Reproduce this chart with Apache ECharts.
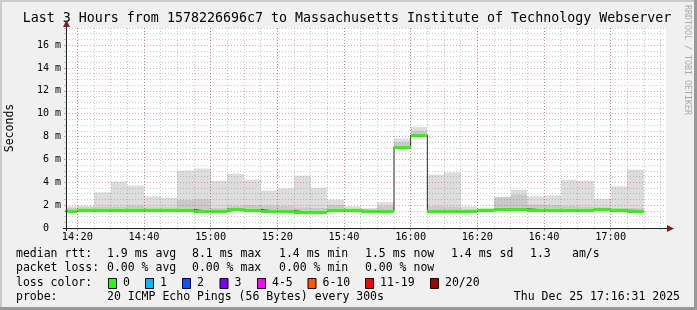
<!DOCTYPE html>
<html><head><meta charset="utf-8">
<script src="https://cdn.jsdelivr.net/npm/echarts@6/dist/echarts.min.js"></script>
<style>html,body{margin:0;padding:0;background:#f0f0f0}#c{width:697px;height:310px}</style>
</head><body><div id="c"></div>
<script>
// ---- data ----
const barEnds = ['14:20','14:25','14:30','14:35','14:40','14:45','14:50','14:55','15:00','15:05','15:10','15:15','15:20','15:25','15:30','15:35','15:40','15:45','15:50','15:55','16:00','16:05','16:10','16:15','16:20','16:25','16:30','16:35','16:40','16:45','16:50','16:55','17:00','17:05','17:10'];
const medianMs = [1.47,1.56,1.58,1.60,1.57,1.55,1.58,1.60,1.47,1.47,1.62,1.60,1.48,1.50,1.38,1.43,1.58,1.55,1.52,1.52,7.10,8.12,1.53,1.47,1.47,1.56,1.62,1.66,1.60,1.60,1.60,1.58,1.62,1.55,1.52];
const minMs    = [1.38,1.45,1.48,1.50,1.47,1.45,1.48,1.50,1.38,1.38,1.50,1.48,1.38,1.38,1.28,1.33,1.45,1.45,1.42,1.42,7.00,8.00,1.43,1.38,1.38,1.47,1.52,1.55,1.48,1.48,1.50,1.48,1.50,1.45,1.42];
const midMs    = [1.75,1.80,1.85,1.85,1.95,1.80,1.80,2.45,2.50,1.75,1.90,2.00,1.95,1.90,1.80,1.75,2.00,1.70,1.62,1.90,7.50,8.50,1.90,1.85,1.62,1.65,2.70,2.92,2.04,2.00,1.90,1.85,1.80,1.75,1.75];
const maxMs    = [1.90,1.95,3.12,4.06,3.71,2.77,2.66,5.02,5.20,4.12,4.76,4.23,3.27,3.47,4.58,3.53,2.48,1.90,1.75,2.25,7.83,8.85,4.67,4.87,1.90,1.78,2.72,3.36,2.77,2.86,4.23,4.15,2.57,3.65,5.11];
const xMajorLabels = ['14:20','14:40','15:00','15:20','15:40','16:00','16:20','16:40','17:00'];
const xMinorTimes = ['14:20','14:25','14:30','14:35','14:40','14:45','14:50','14:55','15:00','15:05','15:10','15:15','15:20','15:25','15:30','15:35','15:40','15:45','15:50','15:55','16:00','16:05','16:10','16:15','16:20','16:25','16:30','16:35','16:40','16:45','16:50','16:55','17:00','17:05','17:10','17:15'];
const yMajorTicks = [0,2,4,6,8,10,12,14,16];
const yMinorTicks = [0.5,1,1.5,2.5,3,3.5,4.5,5,5.5,6.5,7,7.5,8.5,9,9.5,10.5,11,11.5,12.5,13,13.5,14.5,15,15.5,16.5,17,17.5];
const axisStart = '14:16:36', axisEnd = '17:16:36';
const titleText = 'Last 3 Hours from 1578226696c7 to Massachusetts Institute of Technology Webserver';
const rttStats = ['1.9 ms avg','8.1 ms max','1.4 ms min','1.5 ms now','1.4 ms sd','1.3','am/s'];
const lossStats = ['0.00 % avg','0.00 % max','0.00 % min','0.00 % now'];
const lossLabels = ['0','1','2','3','4-5','6-10','11-19','20/20'];
const lossColors = ['#26ff00','#00b8ff','#0059ff','#7e00ff','#ff00ff','#ff5500','#ff0000','#a10000'];
const probeText = '20 ICMP Echo Pings (56 Bytes) every 300s';
const dateText = 'Thu Dec 25 17:16:31 2025';
const BAR_MIN = 5;

// ---- helpers ----
function toMin(t){const p=t.split(':').map(Number);return (p[0]-14)*60+p[1]+(p[2]||0)/60;}
function fmt(m){const h=14+Math.floor(m/60), mm=Math.round(m%60);return h+':'+(mm<10?'0':'')+mm;}
const xMin = toMin(axisStart), xMax = toMin(axisEnd);
const smokeData = barEnds.map((t,i)=>[toMin(t)-BAR_MIN,toMin(t),minMs[i],midMs[i],maxMs[i]]);
const bandData = barEnds.map((t,i)=>[toMin(t)-BAR_MIN,toMin(t),medianMs[i]]);
const lineData = barEnds.map((t,i)=>[toMin(t)-BAR_MIN,medianMs[i]]);
lineData.push([toMin(barEnds[barEnds.length-1]),medianMs[medianMs.length-1]]);

const MONO = '"DejaVu Sans Mono"';
function renderSmoke(params, api){
  const cs = params.coordSys;
  const a = api.coord([api.value(0), api.value(2)]);
  const b = api.coord([api.value(1), api.value(4)]);
  const m = api.coord([api.value(1), api.value(3)]);
  const x0 = Math.round(Math.max(a[0], cs.x)), x1 = Math.round(Math.min(b[0], cs.x+cs.width));
  return {type:'group', children:[
    {type:'rect', shape:{x:x0,y:b[1],width:x1-x0,height:a[1]-b[1]}, style:{fill:'#dddddd'}},
    {type:'rect', shape:{x:x0,y:m[1],width:x1-x0,height:a[1]-m[1]}, style:{fill:'#c9c9c9'}}
  ]};
}
function renderBand(params, api){
  const cs = params.coordSys;
  const a = api.coord([api.value(0), api.value(2)]);
  const b = api.coord([api.value(1), api.value(2)]);
  const x0 = Math.round(Math.max(a[0], cs.x)), x1 = Math.round(Math.min(b[0], cs.x+cs.width));
  return {type:'rect', shape:{x:x0,y:Math.round(a[1])-1,width:x1-x0,height:3}, style:{fill:lossColors[0]}};
}

const GRIDC = 'rgba(130,130,130,0.45)', MGRIDC = 'rgba(225,40,40,0.45)';
const txt = (x,y,s,extra)=>Object.assign({type:'text', x, y, z:100, style:Object.assign({text:s, font:'11.5px '+MONO, fill:'#000', align:'left', verticalAlign:'middle'}, extra||{})});

const graphics = [
  {type:'rect', shape:{x:0,y:0,width:697,height:2}, style:{fill:'#cbcbcb'}},
  {type:'rect', shape:{x:0,y:0,width:2,height:310}, style:{fill:'#cbcbcb'}},
  {type:'rect', shape:{x:694,y:0,width:3,height:310}, style:{fill:'#999999'}},
  {type:'rect', shape:{x:0,y:307,width:697,height:3}, style:{fill:'#999999'}},
  txt(347,19,titleText,{font:'13.3px '+MONO, align:'center'}),
  {type:'text', x:10, y:128, rotation:Math.PI/2, style:{text:'Seconds', font:'11.5px '+MONO, fill:'#000', align:'center', verticalAlign:'middle'}},
  {type:'text', x:687, y:5, rotation:-Math.PI/2, style:{text:'RRDTOOL / TOBI OETIKER', font:'8.3px '+MONO, fill:'#aaaaaa', align:'left', verticalAlign:'middle'}},
  {type:'line', z:100, shape:{x1:66.5,y1:231,x2:66.5,y2:26}, style:{stroke:'#222',lineWidth:1}},
  {type:'polygon', z:101, shape:{points:[[63,27],[70,27],[66.5,20]]}, style:{fill:'#7f1f1f'}},
  {type:'line', z:100, shape:{x1:63,y1:228.5,x2:668,y2:228.5}, style:{stroke:'#222',lineWidth:1}},
  {type:'polygon', z:101, shape:{points:[[667,225],[667,232],[674,228.5]]}, style:{fill:'#7f1f1f'}},
  txt(16,254,'median rtt:'), txt(16,268,'packet loss:'), txt(16,283,'loss color:'), txt(16,297,'probe:'),
  txt(107,297,probeText), txt(680,297,dateText,{align:'right'})
];
const rttX = [107,192,279,365,451,530,572];
rttStats.forEach((s,i)=>graphics.push(txt(rttX[i],254,s)));
lossStats.forEach((s,i)=>graphics.push(txt(rttX[i],268,s)));
const boxX = [108,145,182,219.5,257,307.5,365,430];
lossLabels.forEach((s,i)=>{
  graphics.push({type:'rect', z:100, shape:{x:boxX[i]+0.5,y:278.5,width:8,height:10}, style:{fill:lossColors[i], stroke:'#000', lineWidth:1}});
  graphics.push(txt(boxX[i]+15,283,s));
});

const chart = echarts.init(document.getElementById('c'), null, {renderer:'canvas'});
chart.setOption({
  backgroundColor:'#f0f0f0',
  animation:false,
  grid:{left:66, top:28, width:600, height:200, show:true, backgroundColor:'#ffffff', borderWidth:0, containLabel:false},
  xAxis:[
    {type:'value', min:xMin, max:xMax, position:'bottom', z:5,
     axisLine:{show:false}, axisLabel:{show:false},
     axisTick:{show:true, length:2, customValues:xMinorTimes.map(toMin), lineStyle:{color:GRIDC}},
     splitLine:{show:true, lineStyle:{color:GRIDC, type:[1,2], width:1}}},
    {type:'value', min:xMin, max:xMax, position:'bottom', z:6,
     axisLine:{show:false},
     axisLabel:{show:true, customValues:xMajorLabels.map(toMin), formatter:v=>fmt(v), margin:4, fontFamily:'DejaVu Sans Mono', fontSize:10.3, color:'#000'},
     axisTick:{show:true, length:3, inside:false, customValues:xMajorLabels.map(toMin), lineStyle:{color:MGRIDC}},
     splitLine:{show:true, lineStyle:{color:MGRIDC, type:[1,2], width:1}}}
  ],
  yAxis:[
    {type:'value', min:0, max:17.5, position:'left', z:6,
     axisLine:{show:false},
     axisLabel:{show:true, customValues:yMajorTicks, formatter:v=>v===0?'0  ':v+' m', margin:5, fontFamily:'DejaVu Sans Mono', fontSize:10, color:'#000'},
     axisTick:{show:true, length:2, customValues:yMajorTicks, lineStyle:{color:MGRIDC}},
     splitLine:{show:true, lineStyle:{color:MGRIDC, type:[1,2], width:1}}},
    {type:'value', min:0, max:17.5, position:'left', z:5,
     axisLine:{show:false}, axisLabel:{show:false},
     axisTick:{show:true, length:2, customValues:yMinorTicks, lineStyle:{color:GRIDC}},
     splitLine:{show:true, lineStyle:{color:GRIDC, type:[1,2], width:1}}}
  ],
  series:[
    {type:'custom', name:'smoke', xAxisIndex:0, yAxisIndex:0, z:1, renderItem:renderSmoke, data:smokeData, encode:{x:[0,1], y:[2,3,4]}},
    {type:'line', name:'median rtt', xAxisIndex:0, yAxisIndex:0, z:2, step:'end', data:lineData, showSymbol:false, symbol:'none', lineStyle:{color:'#202020', width:1}, clip:true},
    {type:'custom', name:'loss 0', xAxisIndex:0, yAxisIndex:0, z:3, renderItem:renderBand, data:bandData, encode:{x:[0,1], y:2}}
  ],
  graphic:graphics
});
</script></body></html>
